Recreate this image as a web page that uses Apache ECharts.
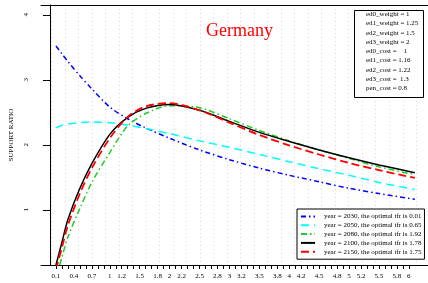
<!DOCTYPE html>
<html>
<head>
<meta charset="utf-8">
<script src="https://cdn.jsdelivr.net/npm/echarts@6/dist/echarts.min.js"></script>
<style>
    html, body { margin: 0; padding: 0; background: #fff; }
    #chart { width: 428px; height: 283px; }
</style>
</head>
<body>
<div id="chart"></div>
<script>
    // x values (tfr) where the curves are read
    var tfr = [0.1, 0.2, 0.3, 0.5, 0.7, 1, 1.3, 1.6, 2, 2.5, 3, 3.5, 4, 4.5, 5, 5.5, 6.1];
    // support ratio per year
    var y2030 = [3.52, 3.40, 3.28, 3.06, 2.86, 2.58, 2.40, 2.26, 2.10, 1.92, 1.77, 1.64, 1.53, 1.43, 1.33, 1.25, 1.16];
    var y2050 = [2.26, 2.30, 2.32, 2.34, 2.35, 2.34, 2.30, 2.25, 2.17, 2.06, 1.96, 1.85, 1.74, 1.63, 1.53, 1.42, 1.31];
    var y2080 = [-0.05, 0.27, 0.58, 1.02, 1.42, 1.88, 2.29, 2.48, 2.60, 2.57, 2.40, 2.22, 2.06, 1.92, 1.79, 1.66, 1.54];
    var y2100 = [0.15, 0.50, 0.85, 1.33, 1.71, 2.16, 2.42, 2.56, 2.62, 2.53, 2.36, 2.19, 2.05, 1.92, 1.80, 1.69, 1.57];
    var y2150 = [0.08, 0.42, 0.76, 1.25, 1.64, 2.10, 2.43, 2.59, 2.64, 2.53, 2.34, 2.15, 1.99, 1.85, 1.72, 1.61, 1.49];

    var names = [
        'year = 2030, the optimal tfr is 0.01',
        'year = 2050, the optimal tfr is 0.65',
        'year = 2080, the optimal tfr is 1.92',
        'year = 2100, the optimal tfr is 1.78',
        'year = 2150, the optimal tfr is 1.75'
    ];
    var xLabels = [0.1, 0.4, 0.7, 1, 1.2, 1.5, 1.8, 2, 2.2, 2.5, 2.8, 3, 3.2, 3.5, 3.8, 4, 4.2, 4.5, 4.8, 5, 5.2, 5.5, 5.8, 6];
    var yLabels = [1, 2, 3, 4];
    var params = [
        'ed0_weight = 1',
        'ed1_weight = 1.25',
        'ed2_weight = 1.5',
        'ed3_weight = 2',
        'ed0_cost =    1',
        'ed1_cost = 1.16',
        'ed2_cost = 1.22',
        'ed3_cost =  1.3',
        'pen_cost = 0.8'
    ];

    var serif = '"Liberation Serif", "DejaVu Serif", serif';

    //刻度 0.1 到 6.0
    var xTicks = [];
    for (var i = 1; i <= 60; i++) {
        xTicks.push(i / 10);
    }

    function pairs(ys) {
        return tfr.map(function (x, i) { return [x, ys[i]]; });
    }

    function line(name, ys, color, type, width) {
        return {
            name: name,
            type: 'line',
            data: pairs(ys),
            smooth: 0.3,
            symbol: 'none',
            xAxisIndex: 0,
            yAxisIndex: 0,
            lineStyle: {color: color, type: type, width: width},
            itemStyle: {color: color}
        };
    }

    var mychart = echarts.init(document.getElementById('chart'));
    var option = {
        backgroundColor: '#fff',
        animation: false,
        textStyle: {fontFamily: serif},
        title: {
            text: 'Germany',
            left: 201,
            top: 17,
            textStyle: {color: '#ff0000', fontSize: 18, fontWeight: 'normal', fontFamily: serif}
        },
        grid: [
            {left: 40, top: 5, right: 0, bottom: 18},
            //虚线网格
            {left: 38.2, top: 5, right: 0, bottom: 18}
        ],
        legend: {
            orient: 'vertical',
            left: 297,
            top: 209,
            width: 130,
            padding: [4, 3, 4, 3],
            itemGap: 1.8,
            itemWidth: 14,
            itemHeight: 7.5,
            icon: 'inherit',
            borderColor: '#000',
            borderWidth: 1,
            backgroundColor: '#fff',
            //只保留线段, 隐藏圆点
            itemStyle: {color: 'rgba(0,0,0,0)', borderColor: 'rgba(0,0,0,0)', borderWidth: 0},
            textStyle: {fontSize: 7, color: '#000', fontFamily: serif, padding: [0, 0, 0, 4]},
            data: names
        },
        xAxis: [
            {
                type: 'value',
                gridIndex: 0,
                min: -0.15,
                max: 6.32,
                position: 'bottom',
                axisLine: {show: true, lineStyle: {color: '#000', width: 1}},
                axisTick: {show: true, customValues: xTicks, length: 4, lineStyle: {color: '#000'}},
                axisLabel: {customValues: xLabels, fontSize: 7, color: '#000', margin: 8, fontFamily: serif},
                splitLine: {show: false}
            },
            {
                type: 'value',
                gridIndex: 0,
                min: -0.15,
                max: 6.32,
                position: 'top',
                axisLine: {show: true, lineStyle: {color: '#000', width: 1}},
                axisTick: {show: false},
                axisLabel: {show: false},
                splitLine: {show: false}
            },
            {
                type: 'value',
                gridIndex: 1,
                min: 0,
                max: 28.87,
                interval: 1,
                axisLine: {show: false},
                axisTick: {show: false},
                axisLabel: {show: false},
                splitLine: {show: true, showMinLine: false, lineStyle: {color: '#d6d6d6', type: [1, 3], width: 1}}
            }
        ],
        yAxis: [
            {
                type: 'value',
                gridIndex: 0,
                min: 0.15,
                max: 4.15,
                axisLine: {show: true, lineStyle: {color: '#000', width: 1}},
                axisTick: {show: true, customValues: yLabels, length: 7, lineStyle: {color: '#000'}},
                axisLabel: {customValues: yLabels, rotate: 90, fontSize: 7, color: '#000', margin: 11, fontFamily: serif},
                splitLine: {show: false},
                name: 'SUPPORT RATIO',
                nameLocation: 'middle',
                nameGap: 26,
                nameRotate: 90,
                nameTextStyle: {fontSize: 7, color: '#000', fontFamily: serif}
            },
            {
                type: 'value',
                gridIndex: 1,
                min: 0,
                max: 1,
                show: false
            }
        ],
        graphic: [
            {
                type: 'rect',
                left: 354,
                top: 10,
                shape: {width: 69, height: 87},
                style: {fill: '#fff', stroke: '#000', lineWidth: 1},
                z: 5
            },
            {
                type: 'text',
                left: 366,
                top: 9.5,
                style: {
                    text: params.join('\n'),
                    font: '7px ' + serif,
                    lineHeight: 9.3,
                    fill: '#000'
                },
                z: 6
            }
        ],
        series: [
            line(names[0], y2030, '#0000ff', [5, 3, 1.5, 3], 1.5),
            line(names[1], y2050, '#00ffff', [8, 5], 1.5),
            line(names[2], y2080, '#22cc22', [6, 3, 1.5, 3], 1.5),
            line(names[3], y2100, '#000000', 'solid', 1.5),
            line(names[4], y2150, '#ff0000', [8, 4], 1.8)
        ]
    };
    mychart.setOption(option);
</script>
</body>
</html>
